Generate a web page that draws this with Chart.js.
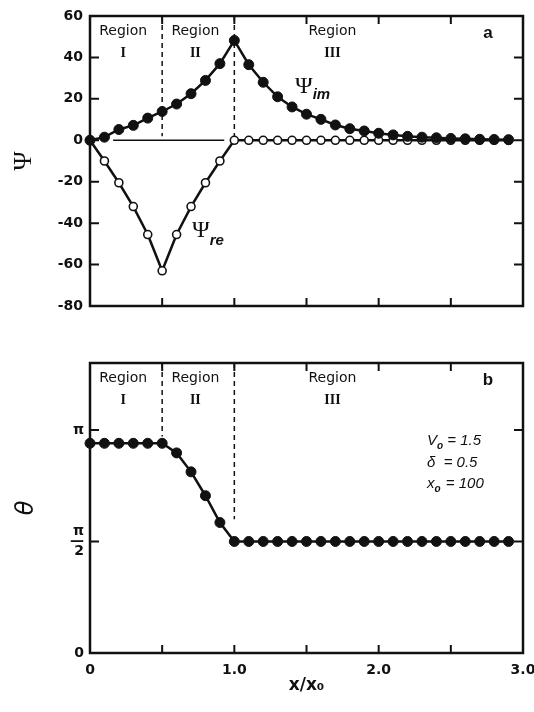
<!DOCTYPE html>
<html>
<head>
<meta charset="utf-8">
<script src="https://cdn.jsdelivr.net/npm/chart.js@4/dist/chart.umd.min.js"></script>
<style>
  body { margin: 0; background: #fff; width: 534px; height: 712px; overflow: hidden; position: relative; }
  #top { position: absolute; left: 0; top: 0; width: 534px; height: 330px; }
  #bot { position: absolute; left: 0; top: 330px; width: 534px; height: 382px; }
</style>
</head>
<body>
<div id="top"><canvas id="psi-chart"></canvas></div>
<div id="bot"><canvas id="theta-chart"></canvas></div>
<script>
// x / x0 sample positions
const xValues = [0, 0.1, 0.2, 0.3, 0.4, 0.5, 0.6, 0.7, 0.8, 0.9,
                 1.0, 1.1, 1.2, 1.3, 1.4, 1.5, 1.6, 1.7, 1.8, 1.9,
                 2.0, 2.1, 2.2, 2.3, 2.4, 2.5, 2.6, 2.7, 2.8, 2.9];
// panel a
const psiIm = [0, 1.5, 5.2, 7.2, 10.7, 13.9, 17.5, 22.5, 28.9, 37,
               48.2, 36.5, 28, 21, 16.1, 12.6, 10.1, 7.4, 5.6, 4.5,
               3.4, 2.6, 1.9, 1.5, 1.2, 0.9, 0.7, 0.5, 0.4, 0.3];
const psiRe = [0, -10, -20.5, -32, -45.5, -63, -45.5, -32, -20.5, -10,
               0, 0, 0, 0, 0, 0, 0, 0, 0, 0,
               0, 0, 0, 0, 0, 0, 0, 0, 0, 0];
const zeroLineX = [0.16, 0.93];
const psiTicks = [60, 40, 20, 0, -20, -40, -60, -80];
// panel b (theta in units of pi)
const thetaOverPi = [0.94, 0.94, 0.94, 0.94, 0.94, 0.94, 0.897, 0.812, 0.705, 0.585,
                     0.5, 0.5, 0.5, 0.5, 0.5, 0.5, 0.5, 0.5, 0.5, 0.5,
                     0.5, 0.5, 0.5, 0.5, 0.5, 0.5, 0.5, 0.5, 0.5, 0.5];
const thetaTicks = [0, 0.5, 1];
const thetaTickLabels = ['0', ['π', '—', '2'], 'π'];
const xTickLabels = { 0: '0', 1: '1.0', 2: '2.0', 3: '3.0' };
const regionBounds = [0.5, 1.0];
const regionNames = ['I', 'II', 'III'];

const ink = '#111';

function pts(xs, ys) { return xs.map((x, i) => ({ x: x, y: ys[i] })); }

function drawSub(ctx, main, sub, x, y, mainFont, subFont, dy) {
  ctx.font = mainFont;
  ctx.textAlign = 'left';
  ctx.textBaseline = 'alphabetic';
  ctx.fillText(main, x, y);
  const w = ctx.measureText(main).width;
  ctx.font = subFont;
  ctx.fillText(sub, x + w, y + dy);
  return x + w + ctx.measureText(sub).width;
}

function decor(opts) {
  return {
    id: 'decor',
    beforeDatasetsDraw(chart) {
      const { ctx, chartArea: a, scales: { x, y } } = chart;
      ctx.save();
      // frame
      ctx.strokeStyle = ink;
      ctx.lineWidth = 2.5;
      ctx.strokeRect(a.left, a.top, a.right - a.left, a.bottom - a.top);
      // inward ticks
      ctx.lineWidth = 2;
      ctx.beginPath();
      x.ticks.forEach(t => {
        const px = x.getPixelForValue(t.value);
        if (px <= a.left + 1 || px >= a.right - 1) return;
        ctx.moveTo(px, a.bottom); ctx.lineTo(px, a.bottom - 8);
        ctx.moveTo(px, a.top); ctx.lineTo(px, a.top + 8);
      });
      y.ticks.forEach(t => {
        const py = y.getPixelForValue(t.value);
        if (py <= a.top + 1 || py >= a.bottom - 1) return;
        ctx.moveTo(a.left, py); ctx.lineTo(a.left + 9, py);
        ctx.moveTo(a.right, py); ctx.lineTo(a.right - 9, py);
      });
      ctx.stroke();
      // region boundaries
      ctx.setLineDash([5, 4]);
      ctx.lineWidth = 1.5;
      regionBounds.forEach((b, i) => {
        const px = x.getPixelForValue(b);
        ctx.beginPath();
        ctx.moveTo(px, a.top);
        ctx.lineTo(px, y.getPixelForValue(opts.dashEnds[i]));
        ctx.stroke();
      });
      ctx.setLineDash([]);
      // region labels
      ctx.fillStyle = ink;
      ctx.textAlign = 'center';
      ctx.textBaseline = 'middle';
      const centers = [0.23, 0.73, 1.68];
      regionNames.forEach((n, i) => {
        const px = x.getPixelForValue(centers[i]);
        ctx.font = '14px "DejaVu Sans"';
        ctx.fillText('Region', px, a.top + 15);
        ctx.font = 'bold 14px "Liberation Serif"';
        ctx.fillText(n, px, a.top + 37);
      });
      // panel letter
      ctx.font = 'bold 17px "Liberation Sans"';
      ctx.fillText(opts.letter, a.right - 35, a.top + 17);
      ctx.restore();
    },
    afterDatasetsDraw(chart) {
      if (opts.after) opts.after(chart);
    }
  };
}

Chart.defaults.font.family = '"DejaVu Sans"';
Chart.defaults.color = ink;

const tickFont = { family: '"DejaVu Sans"', weight: 'bold', size: 14 };

new Chart(document.getElementById('psi-chart'), {
  type: 'line',
  data: {
    datasets: [
      {
        label: 'psi_im',
        data: pts(xValues, psiIm),
        borderColor: ink, borderWidth: 2.5,
        pointRadius: 5, pointBackgroundColor: ink, pointBorderColor: ink, pointBorderWidth: 1,
        clip: false
      },
      {
        label: 'psi_re',
        data: pts(xValues, psiRe),
        borderColor: ink, borderWidth: 2.5,
        pointRadius: 4, pointBackgroundColor: '#fff', pointBorderColor: ink, pointBorderWidth: 1.6,
        clip: false
      },
      {
        label: 'zero',
        data: pts(zeroLineX, [0, 0]),
        borderColor: ink, borderWidth: 1.5, pointRadius: 0
      }
    ]
  },
  options: {
    animation: false,
    responsive: true,
    maintainAspectRatio: false,
    devicePixelRatio: 1,
    layout: { padding: { top: 16, right: 11, left: 0, bottom: 0 } },
    plugins: { legend: { display: false }, tooltip: { enabled: false } },
    scales: {
      x: {
        type: 'linear', min: 0, max: 3,
        ticks: { stepSize: 0.5, display: false },
        grid: { display: false, drawTicks: false },
        border: { display: false },
        afterFit(s) { s.height = 24; s.paddingLeft = 0; s.paddingRight = 0; }
      },
      y: {
        min: -80, max: 60,
        afterBuildTicks(s) { s.ticks = psiTicks.map(v => ({ value: v })); },
        ticks: { font: tickFont, padding: 7 },
        grid: { display: false, drawTicks: false },
        border: { display: false },
        title: { display: true, text: 'Ψ', font: { family: '"Liberation Serif"', size: 26 }, padding: { top: 9 } },
        afterFit(s) { s.width = 90; }
      }
    }
  },
  plugins: [decor({
    dashEnds: [2, 2],
    letter: 'a',
    after(chart) {
      const { ctx } = chart;
      ctx.save();
      ctx.fillStyle = ink;
      drawSub(ctx, 'Ψ', 'im', 295, 93, '24px "Liberation Serif"', 'italic bold 15px "Liberation Sans"', 6);
      drawSub(ctx, 'Ψ', 're', 192, 237, '24px "Liberation Serif"', 'italic bold 15px "Liberation Sans"', 8);
      ctx.restore();
    }
  })]
});

new Chart(document.getElementById('theta-chart'), {
  type: 'line',
  data: {
    datasets: [
      {
        label: 'theta',
        data: pts(xValues, thetaOverPi),
        borderColor: ink, borderWidth: 2.5,
        pointRadius: 5, pointBackgroundColor: ink, pointBorderColor: ink, pointBorderWidth: 1,
        clip: false
      }
    ]
  },
  options: {
    animation: false,
    responsive: true,
    maintainAspectRatio: false,
    devicePixelRatio: 1,
    layout: { padding: { top: 33, right: 11, left: 0, bottom: 0 } },
    plugins: { legend: { display: false }, tooltip: { enabled: false } },
    scales: {
      x: {
        type: 'linear', min: 0, max: 3,
        ticks: {
          stepSize: 0.5, font: tickFont, padding: 9, maxRotation: 0, autoSkip: false,
          callback: v => (xTickLabels[v] !== undefined ? xTickLabels[v] : '')
        },
        grid: { display: false, drawTicks: false },
        border: { display: false },
        title: { display: true, text: 'x/x₀', font: { family: '"DejaVu Sans"', weight: 'bold', size: 17 }, padding: { bottom: 16 } },
        afterFit(s) { s.height = 59; s.paddingLeft = 0; s.paddingRight = 0; }
      },
      y: {
        min: 0, max: 1.3,
        afterBuildTicks(s) { s.ticks = thetaTicks.map(v => ({ value: v })); },
        ticks: {
          font: { family: '"DejaVu Sans"', weight: 'bold', size: 14, lineHeight: 0.7 },
          padding: 6,
          callback: (v, i) => thetaTickLabels[i]
        },
        grid: { display: false, drawTicks: false },
        border: { display: false },
        title: { display: true, text: 'θ', font: { family: '"DejaVu Sans"', style: 'italic', size: 24 }, padding: { top: 12 } },
        afterFit(s) { s.width = 90; }
      }
    }
  },
  plugins: [decor({
    dashEnds: [0.97, 0.6],
    letter: 'b',
    after(chart) {
      const { ctx } = chart;
      ctx.save();
      ctx.fillStyle = ink;
      const f = 'italic 15px "Liberation Sans"';
      const fs = 'italic bold 10px "Liberation Sans"';
      let e = drawSub(ctx, 'V', 'o', 427, 115, f, fs, 4);
      ctx.font = f; ctx.fillText(' = 1.5', e, 115);
      ctx.fillText('δ  = 0.5', 427, 137);
      e = drawSub(ctx, 'x', 'o', 427, 158, f, fs, 4);
      ctx.font = f; ctx.fillText(' = 100', e + 1, 158);
      ctx.restore();
    }
  })]
});
</script>
</body>
</html>
